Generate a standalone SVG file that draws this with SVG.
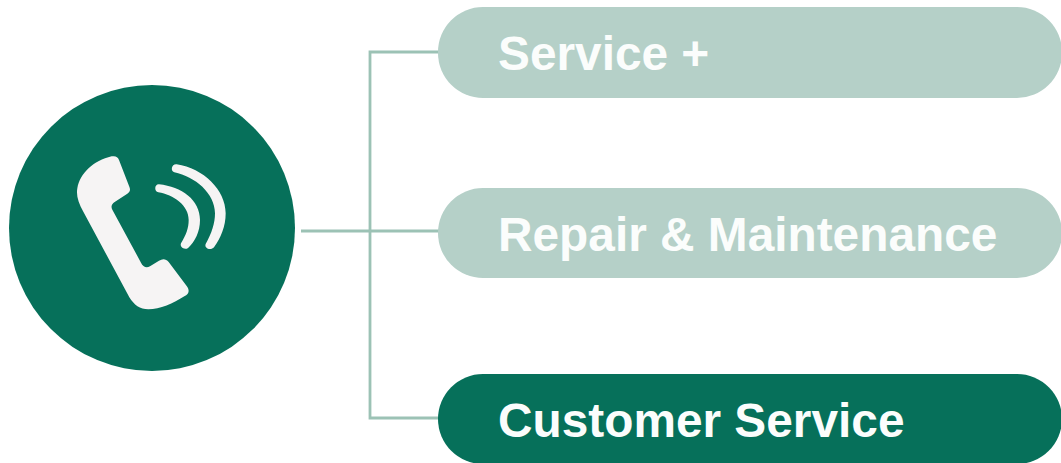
<svg xmlns="http://www.w3.org/2000/svg" width="1061" height="463" viewBox="0 0 1061 463">
<style>
.link{fill:none;stroke:#9cc2b5;stroke-width:2.8}
.label{font-family:"Liberation Sans",Arial,sans-serif;font-weight:700;font-size:47.8px;fill:#fbfdfc}
.light{fill:#b5d0c8}
.dark{fill:#06705a}
.glyph{fill:#f6f4f4}
</style>
<rect width="1061" height="463" fill="#ffffff"/>
<g id="connectors">
<path class="link" d="M301 231H440"/>
<path class="link" d="M440 52H370V418H440"/>
</g>
<g id="phone">
<circle class="dark" cx="152" cy="228" r="143"/>
<g transform="translate(60 140) scale(.33333)">
<path class="glyph" d="M155 49C167 47 173 50 177 60L208 140C212 150 210 156 202 161L164 186C155 192 152 200 157 209L243 368C249 380 258 385 270 379L297 362C308 355 318 356 326 366L380 438C390 452 387 462 373 469C340 490 300 508 265 508C240 508 222 495 208 472L70 215C55 188 48 165 52 145C60 100 100 62 155 49Z"/>
<path class="glyph" d="M297 133C365 140 420 180 420 240C420 275 405 305 385 323C375 332 358 322 363 310C378 285 386 265 386 240C386 195 340 165 295 157C282 155 283 132 297 133Z"/>
<path class="glyph" d="M350 73C430 85 497 150 497 220C497 260 482 295 462 322C452 333 432 325 437 312C455 280 465 250 465 220C465 160 405 110 343 97C330 93 335 71 350 73Z"/>
</g>
</g>
<g id="node-service-plus">
<rect class="light" x="438" y="7" width="624" height="91" rx="45" ry="45"/>
<text class="label" x="498" y="69.500">Service +</text>
</g>
<g id="node-repair">
<rect class="light" x="438" y="188" width="624" height="90" rx="45" ry="45"/>
<text class="label" x="498" y="251">Repair &amp; Maintenance</text>
</g>
<g id="node-customer">
<rect class="dark" x="438" y="374" width="624" height="90" rx="45" ry="45"/>
<text class="label" x="498" y="437">Customer Service</text>
</g>
</svg>
